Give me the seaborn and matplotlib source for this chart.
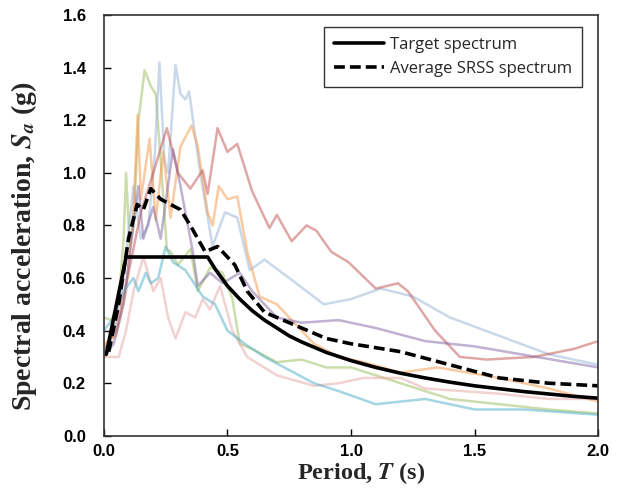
import seaborn as sns
import matplotlib.pyplot as plt
import numpy as np
import pandas as pd

# Periods (s) and spectral accelerations (g)
green_T = [0.0, 0.03, 0.06, 0.08, 0.09, 0.105, 0.12, 0.14, 0.165, 0.19, 0.21, 0.23, 0.255, 0.27, 0.30, 0.35, 0.38, 0.43, 0.48, 0.52, 0.55, 0.60, 0.70, 0.80, 0.90, 1.00, 1.20, 1.40, 1.60, 1.80, 2.00]
green_Sa = [0.45, 0.44, 0.50, 0.75, 1.00, 0.72, 0.80, 1.20, 1.39, 1.33, 1.30, 1.05, 0.71, 0.70, 0.65, 0.71, 0.55, 0.64, 0.62, 0.52, 0.35, 0.33, 0.28, 0.29, 0.26, 0.26, 0.20, 0.14, 0.12, 0.10, 0.085]

blue_T = [0.0, 0.04, 0.08, 0.12, 0.15, 0.18, 0.205, 0.225, 0.245, 0.26, 0.29, 0.31, 0.33, 0.345, 0.39, 0.44, 0.49, 0.54, 0.59, 0.65, 0.75, 0.89, 1.00, 1.12, 1.25, 1.40, 1.60, 1.80, 2.00]
blue_Sa = [0.30, 0.40, 0.60, 0.95, 0.75, 0.80, 1.05, 1.42, 1.05, 1.00, 1.41, 1.30, 1.28, 1.31, 1.00, 0.72, 0.85, 0.83, 0.63, 0.67, 0.60, 0.50, 0.52, 0.56, 0.53, 0.45, 0.38, 0.31, 0.27]

orange_T = [0.0, 0.05, 0.09, 0.12, 0.137, 0.15, 0.185, 0.21, 0.24, 0.27, 0.31, 0.355, 0.38, 0.42, 0.44, 0.465, 0.50, 0.54, 0.58, 0.63, 0.70, 0.75, 0.85, 0.95, 1.05, 1.20, 1.35, 1.60, 1.80, 2.00]
orange_Sa = [0.35, 0.38, 0.55, 0.85, 1.22, 0.90, 1.13, 0.82, 1.08, 0.83, 1.10, 1.18, 1.10, 0.85, 0.80, 0.95, 0.90, 0.91, 0.70, 0.53, 0.50, 0.45, 0.35, 0.30, 0.28, 0.24, 0.26, 0.22, 0.18, 0.13]

red_T = [0.0, 0.05, 0.10, 0.15, 0.20, 0.255, 0.30, 0.35, 0.40, 0.42, 0.46, 0.50, 0.54, 0.60, 0.67, 0.70, 0.76, 0.82, 0.86, 0.92, 0.99, 1.10, 1.19, 1.23, 1.34, 1.44, 1.55, 1.74, 1.90, 2.00]
red_Sa = [0.33, 0.40, 0.62, 0.85, 1.00, 1.17, 1.00, 0.94, 1.01, 0.92, 1.17, 1.08, 1.11, 0.93, 0.79, 0.84, 0.74, 0.80, 0.78, 0.70, 0.66, 0.56, 0.58, 0.55, 0.40, 0.30, 0.29, 0.30, 0.33, 0.36]

purple_T = [0.0, 0.04, 0.08, 0.11, 0.14, 0.16, 0.20, 0.23, 0.28, 0.31, 0.36, 0.38, 0.43, 0.48, 0.55, 0.60, 0.70, 0.80, 0.95, 1.10, 1.30, 1.50, 1.75, 2.00]
purple_Sa = [0.30, 0.35, 0.50, 0.73, 0.95, 0.75, 0.87, 0.75, 1.09, 0.95, 0.70, 0.57, 0.62, 0.58, 0.62, 0.55, 0.45, 0.43, 0.44, 0.41, 0.36, 0.34, 0.30, 0.26]

pink_T = [0.0, 0.06, 0.09, 0.12, 0.16, 0.20, 0.23, 0.26, 0.29, 0.33, 0.37, 0.40, 0.43, 0.47, 0.52, 0.58, 0.70, 0.85, 0.95, 1.05, 1.20, 1.30, 1.60, 1.80, 2.00]
pink_Sa = [0.30, 0.30, 0.40, 0.55, 0.68, 0.55, 0.60, 0.45, 0.37, 0.47, 0.45, 0.52, 0.48, 0.57, 0.40, 0.30, 0.23, 0.19, 0.20, 0.22, 0.22, 0.18, 0.16, 0.14, 0.14]

cyan_T = [0.0, 0.04, 0.08, 0.12, 0.14, 0.17, 0.19, 0.22, 0.25, 0.28, 0.33, 0.40, 0.45, 0.50, 0.57, 0.65, 0.75, 0.85, 0.95, 1.10, 1.30, 1.50, 1.70, 2.00]
cyan_Sa = [0.40, 0.45, 0.55, 0.60, 0.55, 0.62, 0.58, 0.60, 0.72, 0.66, 0.63, 0.53, 0.50, 0.40, 0.35, 0.30, 0.25, 0.20, 0.17, 0.12, 0.14, 0.10, 0.10, 0.08]

target_T = [0.01, 0.09, 0.42, 0.45, 0.50, 0.55, 0.60, 0.65, 0.70, 0.75, 0.80, 0.90, 1.00, 1.10, 1.20, 1.30, 1.40, 1.50, 1.60, 1.70, 1.80, 1.90, 2.00]
target_Sa = [0.31, 0.68, 0.68, 0.635, 0.57, 0.52, 0.476, 0.44, 0.41, 0.38, 0.357, 0.317, 0.286, 0.26, 0.238, 0.22, 0.204, 0.19, 0.179, 0.168, 0.159, 0.15, 0.143]

avg_T = [0.02, 0.06, 0.10, 0.135, 0.16, 0.19, 0.23, 0.27, 0.31, 0.35, 0.41, 0.46, 0.53, 0.58, 0.65, 0.75, 0.90, 1.00, 1.20, 1.40, 1.60, 1.80, 2.00]
avg_Sa = [0.32, 0.50, 0.75, 0.88, 0.86, 0.94, 0.90, 0.88, 0.86, 0.80, 0.70, 0.72, 0.65, 0.55, 0.47, 0.43, 0.37, 0.35, 0.32, 0.27, 0.22, 0.20, 0.19]

x_ticks = [0.0, 0.5, 1.0, 1.5, 2.0]
y_ticks = [0.0, 0.2, 0.4, 0.6, 0.8, 1.0, 1.2, 1.4, 1.6]

records = {
    "green": (green_T, green_Sa, "#9bbb59"),
    "blue": (blue_T, blue_Sa, "#95b3d7"),
    "orange": (orange_T, orange_Sa, "#f79646"),
    "red": (red_T, red_Sa, "#c0504d"),
    "purple": (purple_T, purple_Sa, "#8064a2"),
    "pink": (pink_T, pink_Sa, "#e6a5a4"),
    "cyan": (cyan_T, cyan_Sa, "#4bacc6"),
}

rows = []
for name, (t, sa, _) in records.items():
    for a, b in zip(t, sa):
        rows.append((name, a, b))
df = pd.DataFrame(rows, columns=["record", "T", "Sa"])
palette = {k: v[2] for k, v in records.items()}

sns.set_style("ticks")
plt.rcParams["mathtext.fontset"] = "stix"

fig = plt.figure(figsize=(6.18, 4.88), dpi=100)
ax = fig.add_axes([0.168, 0.107, 0.800, 0.862])

sns.lineplot(data=df, x="T", y="Sa", hue="record", palette=palette, units="record",
             estimator=None, sort=False, lw=1.8, alpha=0.5, legend=False, ax=ax)
sns.lineplot(x=target_T, y=target_Sa, color="black", lw=2.6, sort=False,
             label="Target spectrum", ax=ax)
sns.lineplot(x=avg_T, y=avg_Sa, color="black", lw=2.6, ls=(0, (3, 1.4)), sort=False,
             label="Average SRSS spectrum", ax=ax)

ax.set_xlim(0, 2.0)
ax.set_ylim(0, 1.6)
ax.set_xticks(x_ticks)
ax.set_yticks(y_ticks)
ax.set_xticklabels([f"{v:.1f}" for v in x_ticks])
ax.set_yticklabels([f"{v:.1f}" for v in y_ticks])
ax.tick_params(direction="in", length=5, width=1, colors="black", labelsize=12)
ax.tick_params(axis="y", pad=13)
ax.tick_params(axis="x", pad=6)
for lab in ax.get_xticklabels() + ax.get_yticklabels():
    lab.set_fontweight("bold")
    lab.set_fontfamily("Liberation Sans")
for s in ax.spines.values():
    s.set_visible(True)
    s.set_color("#333333")
    s.set_linewidth(1.2)

ax.set_xlabel(r"Period, $\mathbfit{T}$ (s)", fontsize=17.5, fontweight="bold",
              fontfamily="Liberation Serif")
ax.set_ylabel(r"Spectral acceleration, $\mathbfit{S}_{\mathbfit{a}}$ (g)", fontsize=20,
              fontweight="bold", fontfamily="Liberation Serif")
ax.yaxis.set_label_coords(-0.132, 0.45)

# put the x label just under the tick labels
fig.canvas.draw()
tick_bottom = min(t.get_window_extent().y0 for t in ax.get_xticklabels())
ax_bb = ax.get_window_extent()
ax.xaxis.set_label_coords(0.52, (tick_bottom - 1 - ax_bb.y0) / ax_bb.height)

leg = ax.legend(loc="upper right", bbox_to_anchor=(0.968, 0.971), borderaxespad=0,
                frameon=True, fancybox=False,
                prop={"family": "Open Sans", "size": 12}, handlelength=3.0,
                borderpad=0.6, labelspacing=0.45, handletextpad=0.35)
leg.get_frame().set_edgecolor("black")
leg.get_frame().set_linewidth(1.0)

fig.savefig("out.png", dpi=100)
